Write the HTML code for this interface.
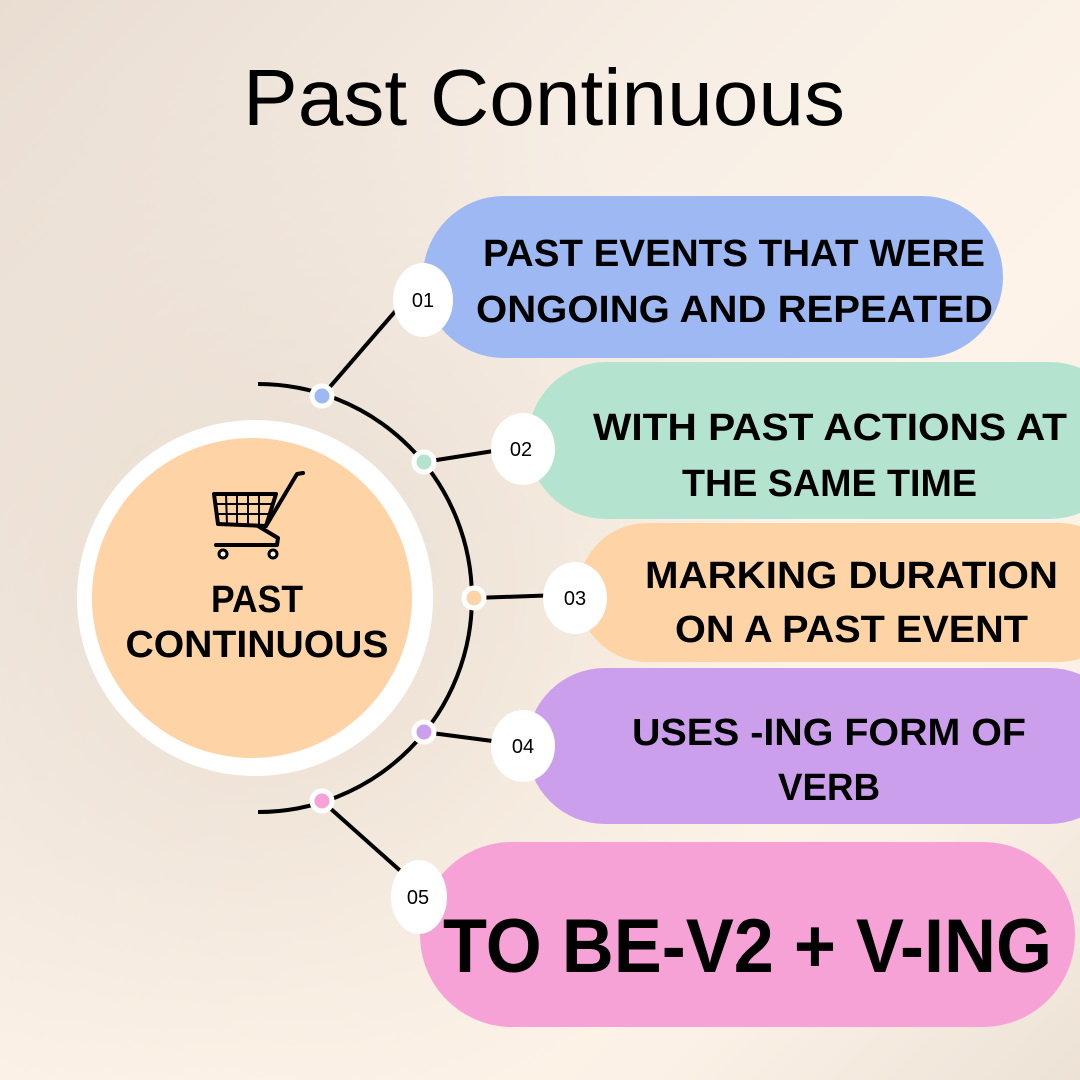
<!DOCTYPE html>
<html><head><meta charset="utf-8"><style>
html,body{margin:0;padding:0;width:1080px;height:1080px;overflow:hidden}
body{background:linear-gradient(135deg,#e9ddd2 0%,#f7eee5 35%,#fdf3e8 60%,#fbf1e6 80%,#ede2d6 100%)}
svg{display:block}
text{font-family:"Liberation Sans",sans-serif;fill:#000}
</style></head><body>
<svg width="1080" height="1080" viewBox="0 0 1080 1080">
<defs>
<radialGradient id="g1" cx="0.25" cy="0.55" r="0.5"><stop offset="0" stop-color="#e6d9cc" stop-opacity="0.8"/><stop offset="1" stop-color="#e6d9cc" stop-opacity="0"/></radialGradient>
</defs>
<rect width="1080" height="1080" fill="url(#g1)"/>
<text x="544" y="125" font-size="80" text-anchor="middle" textLength="602" lengthAdjust="spacingAndGlyphs">Past Continuous</text>

<rect x="423" y="196" width="580" height="162" rx="81" fill="#9db8f2"/>
<rect x="528" y="362" width="600" height="157" rx="78" fill="#b4e3d0"/>
<rect x="578" y="523" width="550" height="139" rx="69" fill="#fed4a7"/>
<rect x="527" y="668" width="600" height="156" rx="78" fill="#cb9fec"/>
<rect x="420" y="842" width="655" height="185" rx="92" fill="#f6a2d6"/>

<path d="M258 384 A214 214 0 0 1 258 812" fill="none" stroke="#000" stroke-width="4"/>
<g stroke="#000" stroke-width="4">
<line x1="322" y1="396" x2="405" y2="300"/>
<line x1="424" y1="462" x2="500" y2="450"/>
<line x1="474" y1="598" x2="560" y2="595"/>
<line x1="424" y1="732" x2="500" y2="742"/>
<line x1="322" y1="801" x2="405" y2="875"/>
</g>
<g stroke="#fff" stroke-width="5">
<circle cx="322" cy="396" r="10" fill="#9db8f2"/>
<circle cx="424" cy="462" r="10" fill="#b4e3d0"/>
<circle cx="474" cy="598" r="10" fill="#fed4a7"/>
<circle cx="424" cy="732" r="10" fill="#cb9fec"/>
<circle cx="322" cy="801" r="10" fill="#f6a2d6"/>
</g>

<g fill="#fff">
<ellipse cx="423" cy="300" rx="30" ry="37"/>
<ellipse cx="523" cy="449" rx="32" ry="36"/>
<ellipse cx="575" cy="598" rx="32" ry="36"/>
<ellipse cx="523" cy="746" rx="32" ry="36"/>
<ellipse cx="419" cy="897" rx="28" ry="37"/>
</g>
<g font-size="20" text-anchor="middle">
<text x="423" y="307">01</text>
<text x="521" y="456">02</text>
<text x="575" y="605">03</text>
<text x="523" y="753">04</text>
<text x="418" y="904">05</text>
</g>

<circle cx="255" cy="598" r="178" fill="#fff"/>
<circle cx="252" cy="598" r="160" fill="#fed4a7"/>

<g fill="none" stroke="#000" stroke-width="4" stroke-linecap="round" stroke-linejoin="round">
<path d="M214 494 L276 494 L266 526 L218 524 Z"/>
<path d="M266 526 L297 474 L303 473"/>
<path d="M258 526 L278 538 L277 545 L216 545"/>
</g>
<g stroke="#000" stroke-width="2">
<line x1="226" y1="494" x2="227" y2="525"/><line x1="237" y1="494" x2="237" y2="525"/>
<line x1="248" y1="494" x2="248" y2="525"/><line x1="259" y1="494" x2="259" y2="525"/>
<line x1="216" y1="504" x2="273" y2="504"/><line x1="217" y1="514" x2="270" y2="514"/>
</g>
<circle cx="223" cy="554" r="4" fill="#fff" stroke="#000" stroke-width="3"/>
<circle cx="273" cy="554" r="4" fill="#fff" stroke="#000" stroke-width="3"/>

<g font-weight="bold">
<text x="257" y="612" font-size="38" text-anchor="middle" textLength="92" lengthAdjust="spacingAndGlyphs">PAST</text>
<text x="257" y="657" font-size="38" text-anchor="middle" textLength="263" lengthAdjust="spacingAndGlyphs">CONTINUOUS</text>

<text x="483" y="266" font-size="38" textLength="502" lengthAdjust="spacingAndGlyphs">PAST EVENTS THAT WERE</text>
<text x="476" y="322" font-size="38" textLength="517" lengthAdjust="spacingAndGlyphs">ONGOING AND REPEATED</text>
<text x="593" y="440" font-size="38" textLength="474" lengthAdjust="spacingAndGlyphs">WITH PAST ACTIONS AT</text>
<text x="682" y="496" font-size="38" textLength="295" lengthAdjust="spacingAndGlyphs">THE SAME TIME</text>
<text x="645" y="588" font-size="38" textLength="413" lengthAdjust="spacingAndGlyphs">MARKING DURATION</text>
<text x="675" y="642" font-size="38" textLength="353" lengthAdjust="spacingAndGlyphs">ON A PAST EVENT</text>
<text x="632" y="745" font-size="38" textLength="394" lengthAdjust="spacingAndGlyphs">USES -ING FORM OF</text>
<text x="778" y="800" font-size="38" textLength="102" lengthAdjust="spacingAndGlyphs">VERB</text>
<text x="443" y="972" font-size="76" textLength="609" lengthAdjust="spacingAndGlyphs">TO BE-V2 + V-ING</text>
</g>
</svg>
</body></html>
